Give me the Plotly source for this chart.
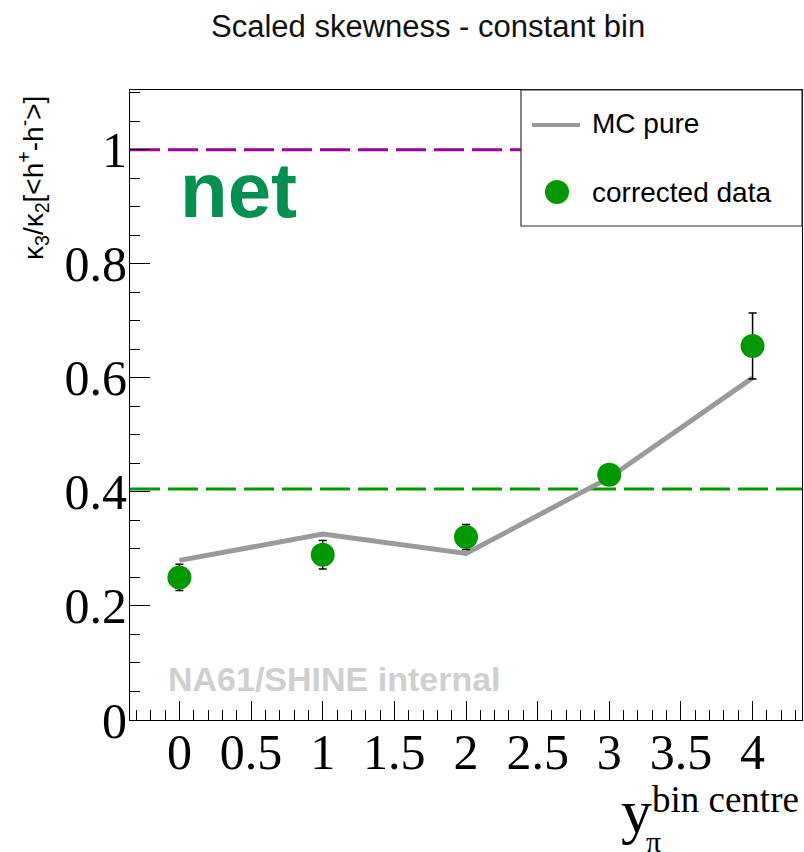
import plotly.graph_objects as go

# Rapidity bin centres and the measured / simulated scaled skewness
y_centre = [0, 1, 2, 3, 4]
mc_pure = [0.280, 0.326, 0.292, 0.425, 0.600]
corrected = [0.250, 0.290, 0.321, 0.430, 0.656]
corrected_err = [0.023, 0.025, 0.022, 0.015, 0.058]

# Reference levels
poisson_level = 1.0
baseline_level = 0.405

x_tick_vals = [0, 0.5, 1, 1.5, 2, 2.5, 3, 3.5, 4]
x_tick_text = ["0", "0.5", "1", "1.5", "2", "2.5", "3", "3.5", "4"]
y_tick_vals = [0, 0.2, 0.4, 0.6, 0.8, 1.0]
y_tick_text = ["0", "0.2", "0.4", "0.6", "0.8", "1"]

W, H = 804, 852
L, R, T, B = 130, 2, 90, 132
PW, PH = W - L - R, H - T - B

GREEN = "#009900"
GREY = "#9a9a9a"
SANS = "Liberation Sans, Arial, sans-serif"
SERIF = "Liberation Serif, Times New Roman, serif"


def px(xp):
    return (xp - L) / PW


def py(yp):
    return (H - B - yp) / PH


fig = go.Figure()

fig.add_trace(go.Scatter(
    x=y_centre, y=mc_pure, mode="lines", name="MC pure",
    line=dict(color=GREY, width=5), showlegend=False,
))
fig.add_trace(go.Scatter(
    x=y_centre, y=corrected, mode="markers", name="corrected data",
    marker=dict(color=GREEN, size=24, line=dict(width=0)),
    error_y=dict(type="data", array=corrected_err, color="black",
                 thickness=1.5, width=4),
    showlegend=False,
))

# Horizontal reference lines
fig.add_shape(type="line", xref="paper", yref="y", x0=0, x1=1,
              y0=poisson_level, y1=poisson_level, layer="below",
              line=dict(color="#990099", width=3, dash="30px,8px"))
fig.add_shape(type="line", xref="paper", yref="y", x0=0, x1=1,
              y0=baseline_level, y1=baseline_level, layer="below",
              line=dict(color=GREEN, width=3, dash="30px,8px"))

# Legend box
fig.add_shape(type="rect", xref="paper", yref="paper",
              x0=px(521), x1=1, y0=py(226), y1=1, layer="above",
              fillcolor="white", line=dict(color="#333333", width=1.2))
fig.add_shape(type="line", xref="paper", yref="paper",
              x0=px(532), x1=px(580), y0=py(125), y1=py(125), layer="above",
              line=dict(color=GREY, width=4))
fig.add_shape(type="circle", xref="paper", yref="paper",
              xsizemode="pixel", ysizemode="pixel",
              xanchor=px(557), yanchor=py(192),
              x0=-12, x1=12, y0=-12, y1=12, layer="above",
              fillcolor=GREEN, line=dict(width=0))

annotations = [
    dict(text="MC pure", x=px(590), y=py(123), xanchor="left", yanchor="middle",
         font=dict(family=SANS, size=28, color="black")),
    dict(text="corrected data", x=px(590), y=py(192), xanchor="left", yanchor="middle",
         font=dict(family=SANS, size=28, color="black")),
    dict(text="<b>net</b>", x=px(178), y=py(190), xanchor="left", yanchor="middle",
         font=dict(family=SANS, size=78, color="#00904f")),
    dict(text="<b>NA61/SHINE internal</b>", x=px(166), y=py(679), xanchor="left",
         yanchor="middle", font=dict(family=SANS, size=34, color="#cfcfcf")),
    dict(text="Scaled skewness - constant bin", x=px(428), y=py(27),
         xanchor="center", yanchor="middle",
         font=dict(family=SANS, size=31, color="#111111")),
    dict(text="κ<sub>3</sub>/κ<sub>2</sub>[&lt;h<sup>+</sup>-h<sup>-</sup>&gt;]",
         x=px(33), y=py(178), xanchor="center", yanchor="middle", textangle=-90,
         font=dict(family=SANS, size=28, color="black")),
    dict(text="y", x=px(636), y=py(811), xanchor="center", yanchor="middle",
         font=dict(family=SERIF, size=62, color="black")),
    dict(text="bin centre", x=px(801), y=py(799), xanchor="right", yanchor="middle",
         font=dict(family=SERIF, size=37, color="black")),
    dict(text="π", x=px(653), y=py(841), xanchor="center", yanchor="middle",
         font=dict(family=SERIF, size=30, color="black")),
]
for a in annotations:
    a.update(xref="paper", yref="paper", showarrow=False)

fig.update_layout(
    width=W, height=H,
    margin=dict(l=L, r=R, t=T, b=B, pad=0),
    paper_bgcolor="white", plot_bgcolor="white",
    showlegend=False,
    annotations=annotations,
)

fig.update_xaxes(
    range=[-0.345, 4.345], showgrid=False, zeroline=False,
    showline=True, linecolor="black", linewidth=1.2, mirror=True,
    tickmode="array", tickvals=x_tick_vals, ticktext=x_tick_text,
    ticks="inside", ticklen=19, tickwidth=1.2, tickcolor="black",
    minor=dict(ticks="inside", ticklen=10, tickwidth=1.2, tickcolor="black",
               tick0=0, dtick=0.1),
    tickfont=dict(family=SERIF, size=50, color="black"),
    ticklabelstandoff=-12,
)
fig.update_yaxes(
    range=[0, 1.105], showgrid=False, zeroline=False,
    showline=True, linecolor="black", linewidth=1.2, mirror=True,
    tickmode="array", tickvals=y_tick_vals, ticktext=y_tick_text,
    ticks="inside", ticklen=20, tickwidth=1.2, tickcolor="black",
    minor=dict(ticks="inside", ticklen=10, tickwidth=1.2, tickcolor="black",
               tick0=0, dtick=0.05),
    tickfont=dict(family=SERIF, size=50, color="black"),
    ticklabelstandoff=-8,
)

fig.write_html("out.html")
